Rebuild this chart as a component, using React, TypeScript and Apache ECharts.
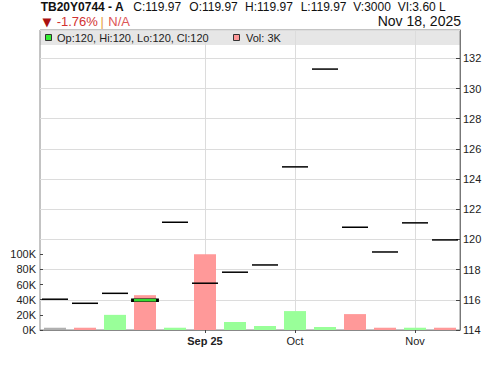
import React, { useEffect, useRef } from "react";
import * as echarts from "echarts";

// ---- data ----
const tickLabels: string[] = ["", "", "", "", "", "Sep 25", "", "", "Oct", "", "", "", "Nov", ""];
const boldLabels: string[] = ["Sep 25"];
const closes: number[] = [116.04, 115.77, 116.43, 115.97, 121.14, 117.1, 117.83, 118.31, 124.81, 131.29, 120.81, 119.17, 121.1, 119.97];
const volumes: number[] = [3000, 3000, 20000, 46000, 3000, 100000, 10600, 5300, 25000, 4000, 21000, 3000, 3000, 3000];
const directions: string[] = ["flat", "down", "up", "down", "up", "down", "up", "up", "up", "up", "down", "down", "up", "down"];
const highlightIndex = 3;
const priceTicks = { min: 114, max: 133.88, interval: 2 };
const volumeTicks = { min: 0, max: 100000, interval: 20000 };

const title = "TB20Y0744 - A";
const quoteItems: string[] = ["C:119.97", "O:119.97", "H:119.97", "L:119.97", "V:3000", "VI:3.60 L"];
const changeText = "-1.76%";
const naText = "N/A";
const dateText = "Nov 18, 2025";
const legendOhlc = "Op:120, Hi:120, Lo:120, Cl:120";
const legendVol = "Vol: 3K";

const FONT = "'Liberation Sans', Arial, Helvetica, sans-serif";
const dirColor: Record<string, string> = { up: "#99ff99", down: "#ff9999", flat: "#b0b0b0" };
const quoteX = [133.3, 189.3, 245, 300.7, 353.3, 397.7];

export default function App() {
  const ref = useRef<HTMLDivElement>(null);
  useEffect(() => {
    if (!ref.current) return;
    const chart = echarts.init(ref.current, null, { renderer: "svg" });
    const gridLeft = 40;
    const gridRight = 40;
    const gridTop = 30;
    const gridBottom = 36;
    const tickIdx = tickLabels.map((l, i) => (l ? i : -1)).filter((i) => i >= 0);

    const txt = (text: string, x: number, y: number, opts: any = {}) => ({
      type: "text",
      x,
      y,
      z: 100,
      style: {
        text,
        fontFamily: opts.fontFamily || FONT,
        fontSize: opts.fontSize || 12,
        fontWeight: opts.fontWeight || "normal",
        fill: opts.fill || "#111",
        align: opts.align || "left",
        verticalAlign: "middle",
      },
    });

    const graphics: any[] = [
      { type: "rect", z: -10, shape: { x: 40, y: 30, width: 420, height: 15 }, style: { fill: "#e6e6e6" } },
      txt(title, 40.7, 6.8, { fontWeight: "bold" }),
      ...quoteItems.map((q, i) => txt(q, quoteX[i], 6.8)),
      txt("▼", 42.5, 21.5, { fontSize: 11.5, fill: "#aa1111", fontFamily: "'DejaVu Sans', sans-serif" }),
      txt(changeText, 56.7, 21, { fontSize: 13, fill: "#d23232" }),
      txt("|", 100.5, 21, { fontSize: 13, fill: "#e8a040" }),
      txt(naText, 108.3, 21, { fontSize: 13, fill: "#dd5555" }),
      txt(dateText, 461, 20.8, { fontSize: 14, align: "right" }),
      { type: "rect", z: 100, shape: { x: 45.5, y: 34.5, width: 6, height: 6 }, style: { fill: "#33ee33", stroke: "#333", lineWidth: 1 } },
      txt(legendOhlc, 57, 38, { fontSize: 11, fill: "#222" }),
      { type: "rect", z: 100, shape: { x: 233.5, y: 34.5, width: 6, height: 6 }, style: { fill: "#ff9999", stroke: "#333", lineWidth: 1 } },
      txt(legendVol, 246, 38, { fontSize: 11, fill: "#222" }),
    ];

    chart.setOption({
      animation: false,
      textStyle: { fontFamily: FONT },
      grid: [
        { left: gridLeft, right: gridRight, top: gridTop, bottom: gridBottom, show: true, borderColor: "#888", borderWidth: 1, backgroundColor: "transparent" },
        { left: gridLeft, right: gridRight, top: 366 - gridBottom - 75.7, bottom: gridBottom },
      ],
      xAxis: [
        {
          type: "category",
          gridIndex: 0,
          data: tickLabels,
          boundaryGap: true,
          axisLine: { show: false },
          axisTick: { show: false },
          axisLabel: { show: false },
          splitLine: { show: false },
        },
        {
          type: "category",
          gridIndex: 1,
          data: tickLabels,
          boundaryGap: true,
          axisLine: { show: true, lineStyle: { color: "#888" } },
          axisTick: {
            show: true,
            alignWithLabel: true,
            length: 3,
            interval: (i: number, v: string) => v !== "",
            lineStyle: { color: "#444" },
          },
          axisLabel: {
            interval: (i: number, v: string) => v !== "",
            fontSize: 11,
            color: "#222",
            margin: 5,
            fontFamily: FONT,
            formatter: (v: string) => (boldLabels.includes(v) ? `{b|${v}}` : v),
            rich: { b: { fontWeight: "bold", fontSize: 11, color: "#222", fontFamily: FONT } },
          },
          splitLine: { show: false },
        },
      ],
      yAxis: [
        {
          type: "value",
          gridIndex: 0,
          position: "right",
          min: priceTicks.min,
          max: priceTicks.max,
          interval: priceTicks.interval,
          axisLine: { show: true, lineStyle: { color: "#777" } },
          axisTick: { show: true, inside: true, length: 4, lineStyle: { color: "#444" } },
          axisLabel: { showMaxLabel: false, fontSize: 11, color: "#222", margin: 3, fontFamily: FONT },
          splitLine: { show: true, lineStyle: { color: "#dcdcdc", width: 1 } },
        },
        {
          type: "value",
          gridIndex: 1,
          position: "left",
          min: volumeTicks.min,
          max: volumeTicks.max,
          interval: volumeTicks.interval,
          axisLine: { show: false },
          axisTick: { show: true, inside: true, length: 3, lineStyle: { color: "#444" } },
          axisLabel: { fontSize: 11, color: "#222", margin: 4, fontFamily: FONT, formatter: (v: number) => `${v / 1000}K` },
          splitLine: { show: false },
        },
      ],
      series: [
        {
          type: "bar",
          xAxisIndex: 1,
          yAxisIndex: 1,
          barWidth: 22,
          z: 2,
          data: volumes.map((v, i) => ({ value: v, itemStyle: { color: dirColor[directions[i]] } })),
        },
        {
          type: "scatter",
          xAxisIndex: 0,
          yAxisIndex: 0,
          symbol: "rect",
          symbolSize: [26, 1.5],
          itemStyle: { color: "#000", opacity: 1 },
          z: 5,
          data: closes.map((c, i) => [i, c]),
          markLine: {
            silent: true,
            z: 1,
            symbol: ["none", "none"],
            label: { show: false },
            lineStyle: { color: "#dcdcdc", width: 1, type: "solid" },
            data: tickIdx.map((i) => ({ xAxis: i })),
          },
        },
        {
          type: "scatter",
          xAxisIndex: 0,
          yAxisIndex: 0,
          symbol: "rect",
          symbolSize: [25, 3],
          itemStyle: { color: "#33dd33", borderColor: "#000", borderWidth: 1, opacity: 1 },
          z: 6,
          data: closes.map((c, i) => (i === highlightIndex ? [i, c] : null)).filter((d) => d !== null),
        },
      ],
      graphic: graphics,
    });
    return () => chart.dispose();
  }, []);
  return <div ref={ref} style={{ width: 500, height: 366, position: "absolute", left: 0, top: 0 }} />;
}
